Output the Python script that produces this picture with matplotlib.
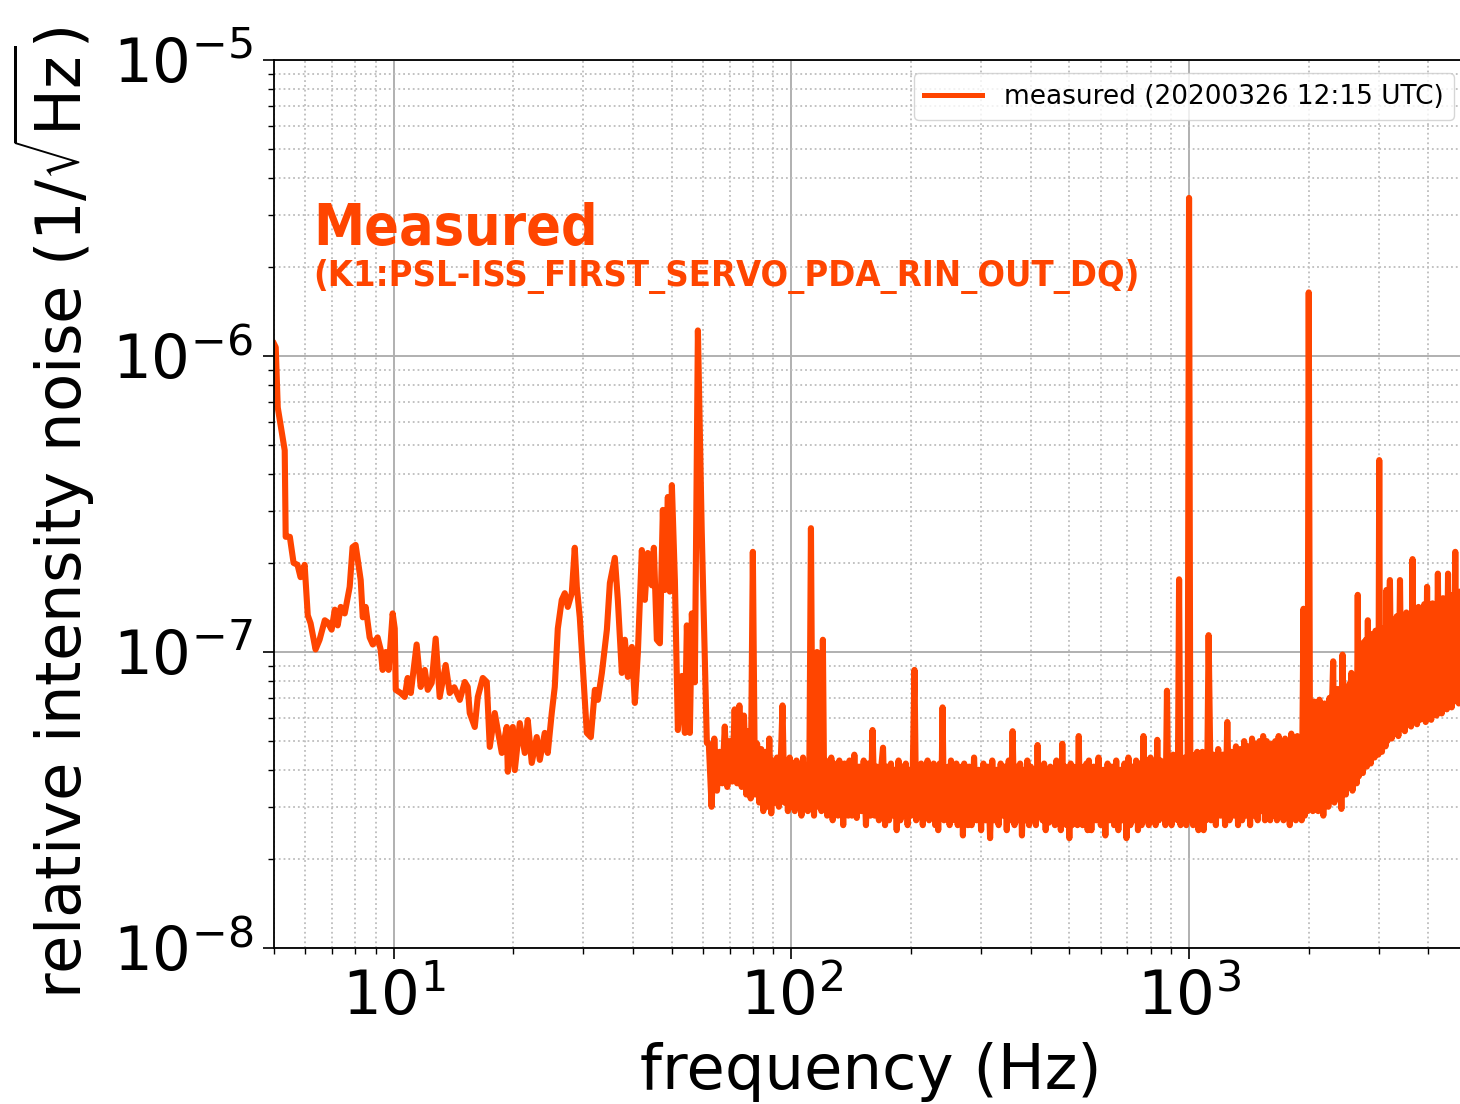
import numpy as np
import matplotlib
matplotlib.use('Agg')
import matplotlib.pyplot as plt

# RIN spectrum, values in units of 1e-8 /rtHz
freq_low = [5.0, 5.05, 5.11, 5.32, 5.35, 5.48, 5.60, 5.73, 5.83, 5.97,
            6.08, 6.18, 6.36, 6.51, 6.71, 6.82, 6.98, 7.11, 7.23, 7.36,
            7.53, 7.75, 7.88, 8.02, 8.26, 8.36, 8.50, 8.70, 8.86, 9.11,
            9.27, 9.38, 9.55, 9.71, 9.94, 10.06, 10.12, 10.41, 10.66, 10.84,
            11.04, 11.42, 11.69, 11.97, 12.18, 12.46, 12.75, 13.05, 13.51, 13.83,
            14.2, 14.66, 15.09, 15.35, 15.53, 15.99, 16.27, 16.75, 17.14, 17.44,
            17.95, 18.70, 19.24, 19.36, 19.93, 20.16, 20.75, 21.36, 21.73, 22.24,
            22.89, 23.30, 23.98, 24.40, 24.97, 25.41, 25.86, 26.46, 26.93, 27.40,
            28.04, 28.53, 28.87, 29.37, 29.89, 30.59, 31.31, 32.05, 32.61, 33.38,
            34.36, 34.96, 35.98, 36.61, 37.47, 38.13, 38.80, 39.71, 40.40, 41.11,
            42.07, 42.81, 43.55, 44.58, 45.10, 45.89, 46.70, 47.51, 48.07, 48.91,
            49.48, 50.06, 50.94, 51.83, 53.05, 53.98, 54.60, 55.56, 56.20, 57.18,
            58.2, 59.5, 60.6, 61.3]
rin_low = [110, 107, 67, 48, 24.5, 24.5, 20.0, 19.7, 17.9, 19.7,
           13.3, 12.5, 10.2, 11.0, 12.8, 12.6, 11.9, 13.9, 12.3, 14.2,
           13.5, 16.6, 22.6, 23.0, 17.5, 13.1, 14.2, 11.2, 10.6, 11.2,
           10.2, 8.7, 10.0, 8.7, 13.5, 12.0, 7.45, 7.27, 7.05, 8.17,
           7.27, 10.6, 7.62, 8.7, 7.45, 7.86, 11.1, 7.05, 9.04, 7.27,
           7.6, 6.89, 7.92, 7.62, 6.22, 5.58, 7.05, 8.17, 7.92, 4.78,
           6.22, 4.56, 5.58, 3.94, 5.58, 3.99, 5.75, 4.56, 5.89, 4.22,
           5.16, 4.32, 5.33, 4.56, 6.22, 7.62, 12.0, 15.0, 15.8, 14.2,
           15.8, 22.5, 16.6, 13.1, 8.9, 5.33, 5.16, 7.45, 6.89, 8.5,
           11.9, 17.1, 20.8, 15.0, 8.5, 11.0, 8.24, 10.4, 6.73, 9.93,
           22.1, 15.0, 21.6, 16.8, 22.5, 11.0, 10.7, 30.2, 16.2, 33.4,
           16.0, 36.6, 17.5, 5.45, 8.3, 5.33, 12.3, 5.33, 13.5, 7.9,
           122, 25.8, 9.4, 4.93]

freq_band = [62, 63, 64, 65, 66, 67, 68, 69, 70, 71, 72, 73, 74, 75, 76, 77, 78, 79, 80, 81,
             82, 83, 84, 85, 86, 87, 88, 89, 90, 91, 92, 93, 94, 95, 96, 97, 98, 99,
             100, 101, 102, 103, 104, 105, 106, 107, 108, 109, 110, 111, 112, 113, 114, 115,
             116, 117, 118, 119, 120, 121, 122, 123, 124, 125, 126, 127, 128, 129, 130, 131,
             132, 133, 134, 135, 136, 137, 138, 139,
             140, 142, 144, 146, 148, 150, 152, 154, 156, 158, 160, 162, 164, 166, 168, 170,
             172, 174, 176, 178, 180, 182, 184, 186, 188, 190, 192, 194, 196, 198,
             200, 202, 204, 206, 208, 210, 212, 214, 216, 218, 220, 222, 224, 226, 228, 230,
             232, 234, 236, 238, 240, 242, 244, 246, 248, 250, 252, 254, 256, 258, 260, 262,
             264, 266, 268, 270, 272, 274, 276, 278,
             280, 284, 288, 292, 296, 300, 304, 308, 312, 316, 320, 324, 328, 332, 336, 340,
             344, 348, 352, 356, 360, 364, 368, 372, 376, 380, 384, 388, 392, 396,
             400, 404, 408, 412, 416, 420, 424, 428, 432, 436, 440, 444, 448, 452, 456, 460,
             464, 468, 472, 476, 480, 484, 488, 492, 496, 500, 504, 508, 512, 516, 520, 524,
             528, 532, 536, 540, 544, 548, 552, 556,
             560, 568, 576, 584, 592, 600, 608, 616, 624, 632, 640, 648, 656, 664, 672, 680,
             688, 696, 704, 712, 720, 728, 736, 744, 752, 760, 768, 776, 784, 792,
             800, 808, 816, 824, 832, 840, 848, 856, 864, 872, 880, 888, 896, 904, 912, 920,
             928, 936, 944, 952, 960, 968, 976, 984, 992, 1000, 1008, 1016, 1024, 1032, 1040,
             1048, 1056, 1064, 1072, 1080, 1088, 1096, 1104, 1112,
             1120, 1136, 1152, 1168, 1184, 1200, 1216, 1232, 1248, 1264, 1280, 1296, 1312, 1328,
             1344, 1360, 1376, 1392, 1408, 1424, 1440, 1456, 1472, 1488, 1504, 1520, 1536, 1552,
             1568, 1584,
             1600, 1616, 1632, 1648, 1664, 1680, 1696, 1712, 1728, 1744, 1760, 1776, 1792, 1808,
             1824, 1840, 1856, 1872, 1888, 1904, 1920, 1940, 1955, 1970, 1985, 2000,
             2016, 2032, 2048, 2064, 2080, 2096, 2112, 2128, 2144, 2160, 2176, 2192, 2208, 2224,
             2240, 2256, 2272, 2288, 2304, 2320, 2336, 2352, 2368, 2384, 2400, 2416, 2432, 2448,
             2464, 2480, 2496, 2512, 2528, 2544, 2560, 2576, 2592, 2608, 2624, 2640, 2656, 2672,
             2688, 2704, 2720, 2736, 2752, 2768, 2784, 2800, 2816, 2832, 2848, 2864, 2880, 2896,
             2912, 2928, 2944, 2960, 2976, 2992, 3008, 3024, 3040, 3056, 3072, 3088, 3104, 3120,
             3136, 3152, 3168,
             3200, 3232, 3264, 3296, 3328, 3360, 3392, 3424, 3456, 3488, 3520, 3552, 3584, 3616,
             3648, 3680, 3712, 3744, 3776, 3808, 3840, 3872, 3904, 3936, 3968, 4000, 4032, 4064,
             4096, 4128, 4160, 4192, 4224, 4256, 4288, 4320, 4352, 4384, 4416, 4448, 4480, 4512,
             4544, 4576, 4608, 4640, 4672, 4704, 4736, 4768, 4800, 4832, 4864, 4896, 4928, 4960,
             4992]
rin_band = [4.9, 3.0, 5.1, 3.4, 4.6, 3.6, 5.6, 3.5, 5.0, 3.65, 6.4, 3.6, 6.6, 3.5, 6.1, 3.3, 5.4, 3.2, 21.8, 3.3,
            4.9, 3.1, 4.7, 2.9, 4.6, 3.0, 5.1, 2.85, 4.3, 3.1, 4.4, 3.0, 4.2, 6.6, 3.1, 4.3, 2.9, 4.4,
            3.0, 4.2, 2.9, 4.3, 3.1, 4.0, 2.8, 4.4, 3.0, 4.1, 2.9, 4.3, 26.2, 4.0, 2.8, 4.2,
            10.0, 3.0, 4.1, 2.9, 11.0, 3.0, 4.3, 2.8, 4.1, 2.9, 4.4, 2.7, 4.2, 3.0, 4.0, 2.8,
            4.3, 2.9, 4.1, 2.6, 4.2, 2.9, 4.0, 2.8,
            4.3, 2.8, 4.5, 2.75, 4.1, 2.9, 4.3, 2.6, 4.2, 2.8, 5.45, 2.8, 4.1, 2.7, 4.0, 4.75,
            2.6, 4.1, 2.7, 4.2, 2.8, 4.0, 2.5, 4.3, 2.7, 4.1, 2.8, 4.2, 2.6, 4.0,
            2.8, 4.1, 8.7, 2.7, 4.0, 2.8, 4.2, 2.6, 4.1, 2.9, 4.3, 2.7, 4.0, 2.75, 4.2, 2.6,
            4.1, 2.5, 4.2, 2.8, 6.5, 2.7, 4.0, 2.8, 4.1, 2.6, 4.3, 2.7, 4.0, 2.8, 4.2, 2.6,
            4.0, 2.7, 4.1, 2.4, 4.2, 2.7, 4.0, 2.6,
            4.1, 2.6, 4.4, 2.7, 4.0, 2.5, 4.2, 2.7, 4.1, 2.35, 4.3, 2.7, 4.0, 2.6, 4.2, 2.8,
            4.1, 2.5, 4.3, 2.7, 5.4, 2.6, 4.1, 2.7, 4.2, 2.4, 4.0, 2.7, 4.3, 2.6,
            4.1, 2.7, 4.0, 2.6, 4.85, 2.8, 4.1, 2.7, 4.2, 2.5, 4.0, 2.65, 4.1, 2.7, 4.0, 2.6,
            4.3, 2.7, 4.0, 2.5, 4.9, 2.7, 4.1, 2.6, 4.0, 2.35, 4.2, 2.6, 4.1, 2.7, 4.0, 2.6,
            5.2, 2.7, 4.1, 2.6, 4.0, 2.7, 4.2, 2.5,
            4.3, 2.5, 4.1, 2.7, 4.4, 2.6, 4.0, 2.4, 4.2, 2.7, 4.1, 2.6, 4.3, 2.5, 4.0, 2.7,
            4.2, 2.35, 4.4, 2.6, 4.1, 2.7, 4.3, 2.5, 4.2, 2.6, 5.2, 2.7, 4.3, 2.6,
            4.4, 2.7, 4.2, 2.6, 5.05, 2.7, 4.3, 2.8, 4.1, 2.6, 7.4, 2.7, 4.4, 2.6, 4.5, 2.8,
            4.2, 2.7, 17.6, 2.6, 4.3, 2.7, 4.4, 2.6, 4.2, 342, 2.7, 4.5, 2.6, 4.3, 2.7,
            4.6, 2.5, 4.4, 2.7, 4.6, 2.5, 4.3, 2.7, 4.4,
            11.4, 2.7, 4.5, 2.6, 4.7, 2.8, 4.5, 2.6, 5.8, 2.7, 4.6, 2.8, 4.8, 2.6,
            4.7, 2.7, 5.0, 2.8, 4.8, 2.6, 5.1, 2.8, 4.9, 2.7, 5.0, 2.9, 5.2, 2.7,
            5.0, 2.8,
            2.7, 4.9, 2.8, 5.0, 2.7, 5.2, 2.9, 4.9, 2.7, 5.1, 2.8, 5.0, 2.6, 5.3,
            2.8, 5.0, 2.7, 5.2, 2.8, 5.1, 2.7, 14.0, 2.8, 5.2, 2.9, 164,
            3.0, 6.5, 2.9, 6.8, 3.1, 6.2, 2.9, 6.9, 3.0, 6.4, 2.8, 6.7, 3.1, 6.3,
            3.0, 7.0, 3.2, 6.6, 9.3, 3.1, 7.2, 3.3, 7.5, 3.2, 7.0, 2.95, 9.8, 3.4,
            7.6, 3.3, 7.3, 3.6, 7.8, 3.5, 8.5, 3.4, 7.7, 3.7, 8.0, 3.6, 15.6, 3.8,
            9.5, 4.0, 10.2, 3.9, 10.8, 4.2, 11.0, 4.1, 12.8, 4.3, 11.2, 4.2, 11.5, 4.5,
            10.9, 4.4, 11.8, 4.6, 11.2, 4.5, 44.5, 4.7, 11.6, 4.6, 12.0, 4.9, 11.4, 4.8,
            16.2, 5.0, 12.2,
            17.5, 5.1, 12.8, 5.3, 13.2, 5.2, 17.5, 5.5, 13.0, 5.4, 13.6, 5.7, 12.9, 5.6,
            20.6, 5.8, 13.8, 5.7, 14.2, 5.9, 13.5, 6.0, 14.5, 5.8, 16.6, 6.1, 14.0, 5.9,
            14.6, 6.2, 13.9, 6.1, 18.4, 6.3, 14.8, 6.2, 15.2, 6.5, 14.5, 6.4, 18.4, 6.6,
            15.0, 6.5, 15.6, 6.8, 21.8, 6.9, 15.4, 6.7, 16.0, 7.0, 15.5, 7.1, 16.5, 7.0,
            16.2]

freq = np.array(freq_low + freq_band, dtype=float)
rin = np.array(rin_low + rin_band, dtype=float) * 1e-8

orange = '#ff4500'

fig = plt.figure(figsize=(14.6, 11.04), dpi=100)
ax = fig.add_axes([274 / 1460, 1 - 948 / 1104, (1467 - 274) / 1460, (948 - 60) / 1104])

ax.loglog(freq, rin, color=orange, lw=4.4, label='measured (20200326 12:15 UTC)')
ax.set_xlim(5, 5000)
ax.set_ylim(1e-8, 1e-5)

ax.grid(which='major', color='#b0b0b0', lw=1.4)
ax.grid(which='minor', color='#bdbdbd', ls=':', lw=1.3)
ax.tick_params(which='major', labelsize=44, length=8, width=1.2, pad=7)
ax.tick_params(which='minor', length=4.5, width=1.0)
for s in ax.spines.values():
    s.set_linewidth(1.3)

ax.set_xlabel('frequency (Hz)', fontsize=45, labelpad=10)
ax.set_ylabel(r'relative intensity noise $(1/\sqrt{\rm Hz})$', fontsize=45)
ax.yaxis.set_label_coords(-0.148, 0.49)

leg = ax.legend(loc='upper right', fontsize=19, handlelength=2.2)
leg.get_lines()[0].set_linewidth(3.6)

ax.text(0.033, 0.792, 'Measured', transform=ax.transAxes, color=orange,
        fontsize=41, fontweight='bold', fontstretch='condensed')
ax.text(0.033, 0.7455, '(K1:PSL-ISS_FIRST_SERVO_PDA_RIN_OUT_DQ)', transform=ax.transAxes,
        color=orange, fontsize=26, fontweight='bold', fontstretch='condensed')

fig.savefig('out.png', dpi=100)
